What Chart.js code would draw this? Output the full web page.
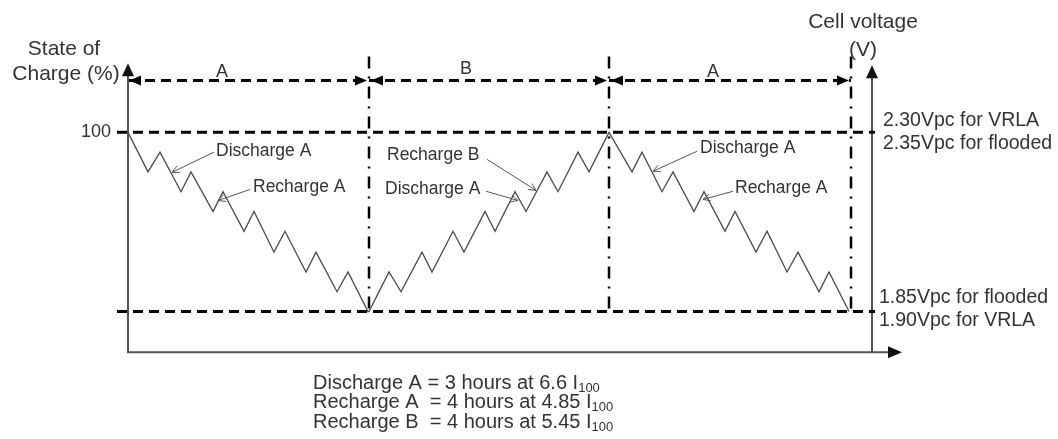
<!DOCTYPE html>
<html>
<head>
<meta charset="utf-8">
<script src="https://cdn.jsdelivr.net/npm/chart.js@4"></script>
<style>
  html, body { margin: 0; padding: 0; background: #fff; }
  canvas { display: block; }
</style>
</head>
<body>
<canvas id="chart" width="1058" height="439"></canvas>
<script>
// schematic: x is time (arbitrary units), y is state of charge (%)
const timeA1 = [0, 20, 32, 53, 63, 85, 95, 116, 126, 146, 157, 178, 188, 209, 220, 240];
const socA1 = [100, 82, 91, 73, 82, 64, 73, 55, 64, 45.5, 55, 36.5, 45.5, 27.5, 36.5, 18.5];

const timeB = [241, 261, 273, 294, 304, 325, 336, 357, 367, 387, 398, 419, 430, 450, 461, 481];
const socB = [18.5, 36.5, 27.5, 45.5, 36.5, 55, 45.5, 64, 55, 73, 64, 82, 73, 91, 82, 100];

const timeA2 = [481, 504, 514, 534, 545, 566, 576, 597, 607, 628, 639, 659, 670, 691, 701, 721];
const socA2 = [100, 82, 91, 73, 82, 64, 73, 55, 64, 45.5, 55, 36.5, 45.5, 27.5, 36.5, 18.5];

const fullSoc = 100;
const lowSoc = 18.5;
const phaseEnds = [241, 481, 723];
const phaseNames = ["A", "B", "A"];
const phaseLabelTime = [94, 338, 585];
const voltageAxisTime = 744;
const topLineSoc = 123.6;

const fullLabels = ["2.30Vpc for VRLA", "2.35Vpc for flooded"];
const lowLabels = ["1.85Vpc for flooded", "1.90Vpc for VRLA"];

// text anchor, arrow start, arrow tip (data coords)
const notes = [
  { text: "Discharge A", at: [88, 91.4], from: [86, 91], to: [44, 81.8] },
  { text: "Recharge A", at: [125, 75], from: [122, 74], to: [90, 69] },
  { text: "Recharge B", at: [259, 89.5], from: [359, 87.7], to: [408, 73.6] },
  { text: "Discharge A", at: [257, 74], from: [358, 73.2], to: [390, 69] },
  { text: "Discharge A", at: [572, 92.7], from: [569, 91.4], to: [525, 82.3] },
  { text: "Recharge A", at: [607, 74.5], from: [605, 73.2], to: [575, 69.5] },
];

const legendLines = [
  ["Discharge A = 3 hours at 6.6 I", "100"],
  ["Recharge A  = 4 hours at 4.85 I", "100"],
  ["Recharge B  = 4 hours at 5.45 I", "100"],
];

const font = '"Liberation Sans", Arial, sans-serif';
const pts = (xs, ys) => xs.map((x, i) => ({ x, y: ys[i] }));

const line = (data, extra = {}) => ({
  data,
  showLine: true,
  pointRadius: 0,
  fill: false,
  borderColor: "#000",
  borderWidth: 3,
  borderDash: [10, 6],
  clip: false,
  ...extra,
});

const head = (ctx, tx, ty, angle, len, half) => {
  const c = Math.cos(angle), s = Math.sin(angle);
  ctx.beginPath();
  ctx.moveTo(tx, ty);
  ctx.lineTo(tx - len * c - half * s, ty - len * s + half * c);
  ctx.lineTo(tx - len * c + half * s, ty - len * s - half * c);
  ctx.closePath();
  ctx.fill();
};

const decor = {
  id: "decor",
  beforeDatasetsDraw(chart) {
    const { ctx, scales: { x, y } } = chart;
    const X = (v) => x.getPixelForValue(v);
    const Y = (v) => y.getPixelForValue(v);
    ctx.save();
    ctx.strokeStyle = "#555";
    ctx.lineWidth = 2;
    ctx.beginPath();
    ctx.moveTo(X(0), Y(0));
    ctx.lineTo(X(0), Y(130));
    ctx.moveTo(X(voltageAxisTime), Y(0));
    ctx.lineTo(X(voltageAxisTime), Y(129));
    ctx.moveTo(X(-1), Y(0));
    ctx.lineTo(X(765), Y(0));
    ctx.stroke();
    ctx.fillStyle = "#111";
    head(ctx, X(0), Y(131.4), -Math.PI / 2, 13, 6);
    head(ctx, X(voltageAxisTime), Y(130.5), -Math.PI / 2, 13, 6);
    head(ctx, X(774), Y(0), 0, 14, 6);
    ctx.restore();
  },
  afterDatasetsDraw(chart) {
    const { ctx, scales: { x, y } } = chart;
    const X = (v) => x.getPixelForValue(v);
    const Y = (v) => y.getPixelForValue(v);
    ctx.save();

    // phase arrows on the top line
    ctx.fillStyle = "#000";
    let start = 1;
    phaseEnds.forEach((end, i) => {
      head(ctx, X(start), Y(topLineSoc), Math.PI, 12, 5);
      head(ctx, X(end - 2), Y(topLineSoc), 0, 12, 5);
      start = end + 2;
    });

    ctx.fillStyle = "#333";
    ctx.textBaseline = "middle";

    // phase names
    ctx.font = `18px ${font}`;
    ctx.textAlign = "center";
    phaseNames.forEach((n, i) => {
      ctx.fillText(n, X(phaseLabelTime[i]), Y(n === "B" ? 129 : 127.3));
    });

    // annotations
    ctx.strokeStyle = "#555";
    ctx.lineWidth = 1;
    ctx.font = `17.5px ${font}`;
    ctx.textAlign = "left";
    notes.forEach(({ text, at, from, to }) => {
      ctx.fillText(text, X(at[0]), Y(at[1]));
      const fx = X(from[0]), fy = Y(from[1]), tx = X(to[0]), ty = Y(to[1]);
      ctx.beginPath();
      ctx.moveTo(fx, fy);
      ctx.lineTo(tx, ty);
      const a = Math.atan2(ty - fy, tx - fx);
      ctx.moveTo(tx - 8 * Math.cos(a - 0.45), ty - 8 * Math.sin(a - 0.45));
      ctx.lineTo(tx, ty);
      ctx.lineTo(tx - 8 * Math.cos(a + 0.45), ty - 8 * Math.sin(a + 0.45));
      ctx.stroke();
    });

    // left axis
    ctx.font = `18px ${font}`;
    ctx.textAlign = "right";
    ctx.fillText("100", X(-17), Y(fullSoc));
    ctx.font = `21px ${font}`;
    ctx.textAlign = "center";
    ctx.fillText("State of", X(-64), 49);
    ctx.fillText("Charge (%)", X(-62), 74);

    // right axis
    ctx.fillText("Cell voltage", X(voltageAxisTime - 9), 22);
    ctx.fillText("(V)", X(voltageAxisTime - 9), 50);
    ctx.font = `19.5px ${font}`;
    ctx.textAlign = "left";
    ctx.fillText(fullLabels[0], X(voltageAxisTime + 11), Y(fullSoc) - 12);
    ctx.fillText(fullLabels[1], X(voltageAxisTime + 11), Y(fullSoc) + 11);
    ctx.fillText(lowLabels[0], X(voltageAxisTime + 7), Y(lowSoc) - 14);
    ctx.fillText(lowLabels[1], X(voltageAxisTime + 7), Y(lowSoc) + 9);

    // key below the chart
    legendLines.forEach(([txt, sub], i) => {
      const ly = 383 + i * 19.5;
      ctx.font = `20px ${font}`;
      ctx.fillText(txt, 313, ly);
      const w = ctx.measureText(txt).width;
      ctx.font = `13px ${font}`;
      ctx.fillText(sub, 313 + w, ly + 5);
    });
    ctx.restore();
  },
};

new Chart(document.getElementById("chart").getContext("2d"), {
  type: "scatter",
  data: {
    datasets: [
      line(pts(timeA1, socA1).concat(pts(timeB, socB), pts(timeA2, socA2)), {
        borderColor: "#4a4a4a",
        borderWidth: 1.3,
        borderDash: [],
      }),
      line([{ x: -11, y: fullSoc }, { x: 747, y: fullSoc }]),
      line([{ x: -11, y: lowSoc }, { x: 747, y: lowSoc }]),
      line([{ x: 1, y: topLineSoc }, { x: phaseEnds[2], y: topLineSoc }]),
      ...phaseEnds.map((t) =>
        line([{ x: t, y: 134.5 }, { x: t, y: lowSoc }], {
          borderWidth: 2.5,
          borderDash: [12, 8, 2, 8],
        })
      ),
    ],
  },
  options: {
    responsive: false,
    animation: false,
    layout: { padding: { left: 98, right: 140, top: 40, bottom: 78 } },
    plugins: { legend: { display: false }, tooltip: { enabled: false } },
    scales: {
      x: { type: "linear", min: -30, max: 790, display: false },
      y: { min: -4, max: 142, display: false },
    },
  },
  plugins: [decor],
});
</script>
</body>
</html>
